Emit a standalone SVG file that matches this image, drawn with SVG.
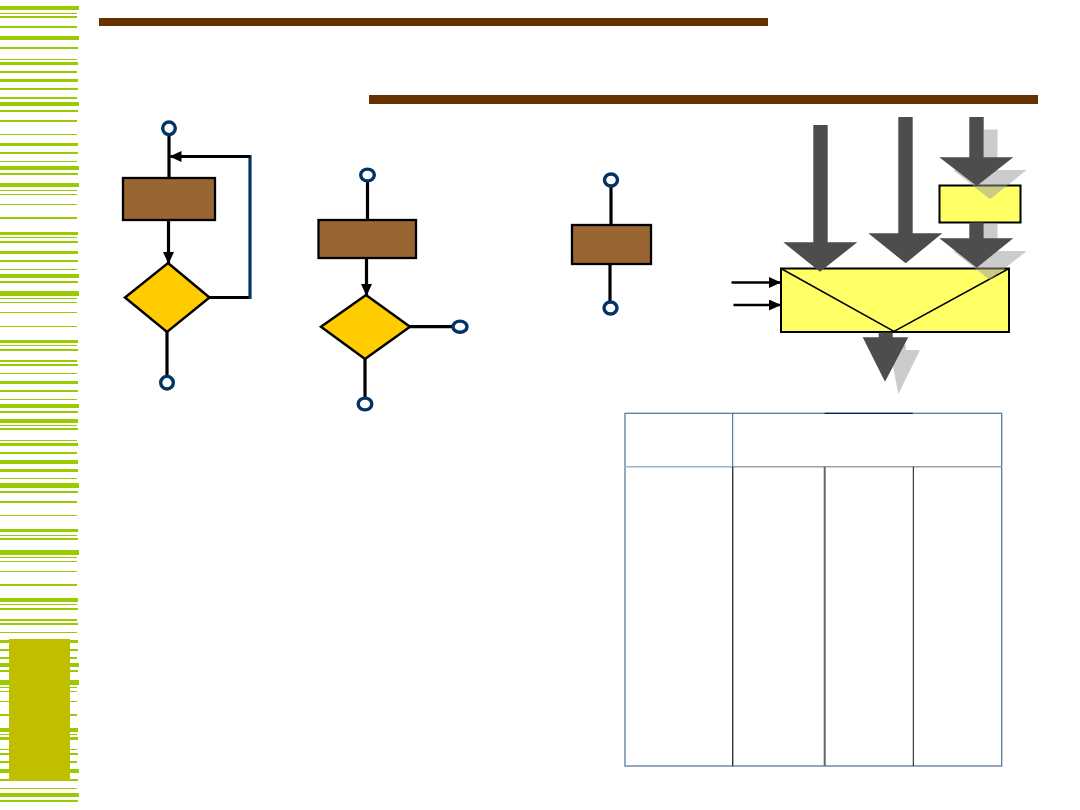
<svg xmlns="http://www.w3.org/2000/svg" width="1080" height="810" viewBox="0 0 1080 810">
<style>
.s{fill:#99CC00}
.ln{stroke:#000;stroke-width:3.2;fill:none}
.proc{fill:#996633;stroke:#000;stroke-width:2.3}
.dec{fill:#FFCC00;stroke:#000;stroke-width:2.5;stroke-linejoin:miter}
.term{fill:#fff;stroke:#003366;stroke-width:3.4}
.big{fill:#4D4D4D}
.shd{fill:#999999;fill-opacity:0.5}
.yl{fill:#FFFF66;stroke:#000;stroke-width:2}
</style>
<defs>
<marker id="ah" markerUnits="userSpaceOnUse" markerWidth="12" markerHeight="11" refX="11" refY="5.5" orient="auto">
<path d="M0,0 L12,5.5 L0,11 Z" fill="#000"/>
</marker>
</defs>
<rect width="1080" height="810" fill="#fff"/>
<g id="stripes">
<rect class="s" x="0" y="6" width="79" height="4"/><rect class="s" x="0" y="13" width="77" height="1"/><rect class="s" x="0" y="16" width="77" height="2"/><rect class="s" x="0" y="26" width="77" height="2"/><rect class="s" x="0" y="36" width="79" height="4"/><rect class="s" x="0" y="47" width="78" height="2"/><rect class="s" x="0" y="59" width="77" height="1"/><rect class="s" x="0" y="62" width="78" height="3"/><rect class="s" x="0" y="71" width="77" height="2"/><rect class="s" x="0" y="79" width="78" height="3"/><rect class="s" x="0" y="88" width="78" height="2"/><rect class="s" x="0" y="97" width="77" height="2"/><rect class="s" x="0" y="102" width="79" height="4"/><rect class="s" x="0" y="110" width="78" height="2"/><rect class="s" x="0" y="120" width="77" height="2"/><rect class="s" x="0" y="134" width="77" height="1"/><rect class="s" x="0" y="143" width="78" height="3"/><rect class="s" x="0" y="152" width="78" height="2"/><rect class="s" x="0" y="161" width="77" height="1"/><rect class="s" x="0" y="166" width="79" height="4"/><rect class="s" x="0" y="173" width="78" height="2"/><rect class="s" x="0" y="183" width="79" height="4"/><rect class="s" x="0" y="190" width="77" height="1"/><rect class="s" x="0" y="194" width="77" height="1"/><rect class="s" x="0" y="204" width="77" height="1"/><rect class="s" x="0" y="217" width="77" height="2"/><rect class="s" x="0" y="232" width="78" height="3"/><rect class="s" x="0" y="237" width="77" height="1"/><rect class="s" x="0" y="241" width="78" height="2"/><rect class="s" x="0" y="251" width="78" height="3"/><rect class="s" x="0" y="260" width="78" height="2"/><rect class="s" x="0" y="269" width="77" height="1"/>
<rect class="s" x="0" y="274" width="79" height="4"/><rect class="s" x="0" y="281" width="78" height="2"/><rect class="s" x="0" y="291" width="79" height="5"/><rect class="s" x="0" y="298" width="77" height="1"/><rect class="s" x="0" y="302" width="77" height="1"/><rect class="s" x="0" y="312" width="77" height="1"/><rect class="s" x="0" y="326" width="77" height="1"/><rect class="s" x="0" y="340" width="78" height="3"/><rect class="s" x="0" y="345" width="77" height="1"/><rect class="s" x="0" y="349" width="78" height="2"/><rect class="s" x="0" y="360" width="77" height="2"/><rect class="s" x="0" y="364" width="78" height="2"/><rect class="s" x="0" y="373" width="77" height="1"/><rect class="s" x="0" y="381" width="78" height="3"/><rect class="s" x="0" y="390" width="78" height="2"/><rect class="s" x="0" y="399" width="77" height="1"/><rect class="s" x="0" y="404" width="79" height="4"/><rect class="s" x="0" y="411" width="78" height="2"/><rect class="s" x="0" y="419" width="78" height="4"/><rect class="s" x="0" y="425" width="77" height="1"/><rect class="s" x="0" y="428" width="78" height="2"/><rect class="s" x="0" y="440" width="77" height="1"/><rect class="s" x="0" y="443" width="78" height="3"/><rect class="s" x="0" y="452" width="77" height="2"/><rect class="s" x="0" y="460" width="78" height="4"/><rect class="s" x="0" y="469" width="78" height="3"/><rect class="s" x="0" y="478" width="77" height="1"/><rect class="s" x="0" y="483" width="79" height="5"/><rect class="s" x="0" y="491" width="78" height="2"/><rect class="s" x="0" y="501" width="77" height="2"/><rect class="s" x="0" y="515" width="77" height="1"/><rect class="s" x="0" y="529" width="78" height="3"/><rect class="s" x="0" y="535" width="77" height="1"/><rect class="s" x="0" y="538" width="78" height="2"/>
<rect class="s" x="0" y="550" width="79" height="5"/><rect class="s" x="0" y="557" width="77" height="1"/><rect class="s" x="0" y="561" width="77" height="1"/><rect class="s" x="0" y="571" width="77" height="1"/><rect class="s" x="0" y="584" width="77" height="2"/><rect class="s" x="0" y="598" width="78" height="4"/><rect class="s" x="0" y="604" width="77" height="1"/><rect class="s" x="0" y="608" width="78" height="2"/><rect class="s" x="0" y="619" width="77" height="2"/><rect class="s" x="0" y="623" width="78" height="2"/><rect class="s" x="0" y="632" width="77" height="1"/><rect class="s" x="0" y="640" width="78" height="3"/><rect class="s" x="0" y="649" width="78" height="2"/><rect class="s" x="0" y="657" width="77" height="2"/><rect class="s" x="0" y="663" width="79" height="4"/><rect class="s" x="0" y="670" width="78" height="2"/><rect class="s" x="0" y="680" width="79" height="5"/><rect class="s" x="0" y="687" width="77" height="1"/><rect class="s" x="0" y="691" width="77" height="1"/><rect class="s" x="0" y="701" width="77" height="1"/><rect class="s" x="0" y="714" width="77" height="2"/><rect class="s" x="0" y="728" width="78" height="4"/><rect class="s" x="0" y="734" width="77" height="1"/><rect class="s" x="0" y="737" width="78" height="3"/><rect class="s" x="0" y="749" width="77" height="1"/><rect class="s" x="0" y="753" width="78" height="2"/><rect class="s" x="0" y="761" width="77" height="2"/><rect class="s" x="0" y="769" width="79" height="4"/><rect class="s" x="0" y="779" width="78" height="2"/><rect class="s" x="0" y="788" width="77" height="1"/><rect class="s" x="0" y="793" width="79" height="4"/><rect class="s" x="0" y="800" width="78" height="2"/>
<rect x="9" y="639" width="61" height="142" fill="#BFBF00"/>
</g>
<g id="bars">
<rect x="99" y="18" width="669" height="8" fill="#663300"/>
<rect x="369" y="95" width="669" height="9" fill="#663300"/>
</g>
<g id="connectors">
<line class="ln" x1="169" y1="134" x2="169" y2="178"/>
<line class="ln" x1="168.5" y1="220" x2="168.5" y2="263" marker-end="url(#ah)"/>
<line class="ln" x1="210" y1="297.5" x2="250" y2="297.5"/>
<line x1="250" y1="155" x2="250" y2="299" stroke="#003366" stroke-width="3.2"/>
<line class="ln" x1="250" y1="156.5" x2="170.5" y2="156.5" marker-end="url(#ah)"/>
<line class="ln" x1="167" y1="332" x2="167" y2="376"/>
<line class="ln" x1="367.5" y1="181" x2="367.5" y2="220"/>
<line class="ln" x1="366.5" y1="258" x2="366.5" y2="295" marker-end="url(#ah)"/>
<line class="ln" x1="410" y1="326.7" x2="453" y2="326.7"/>
<line class="ln" x1="365" y1="359" x2="365" y2="398"/>
<line class="ln" x1="611" y1="186" x2="611" y2="225"/>
<line class="ln" x1="610" y1="264" x2="610" y2="302"/>
<line x1="731.5" y1="282.5" x2="780" y2="282.5" stroke="#000" stroke-width="2.6" marker-end="url(#ah)"/>
<line x1="733.5" y1="305" x2="780" y2="305" stroke="#000" stroke-width="2.6" marker-end="url(#ah)"/>
</g>
<g id="loop-chart">
<rect id="p1" class="proc" x="123" y="178" width="92" height="42"/>
<polygon id="d1" class="dec" points="168,263 209.5,297.5 167,332 125,297.5"/>
<circle id="t1a" class="term" cx="169" cy="128.3" r="6.3"/>
<circle id="t1b" class="term" cx="167" cy="382.7" r="6.3"/>
</g>
<g id="branch-chart">
<rect id="p2" class="proc" x="318.5" y="220" width="97.5" height="38"/>
<polygon id="d2" class="dec" points="366,295 410,326.7 365,359 321,326.7"/>
<ellipse id="t2a" class="term" cx="367.5" cy="175" rx="6.8" ry="5.9"/>
<ellipse id="t2b" class="term" cx="460" cy="326.7" rx="7" ry="5.6"/>
<ellipse id="t2c" class="term" cx="365" cy="404" rx="6.8" ry="5.9"/>
</g>
<g id="seq-chart">
<rect id="p3" class="proc" x="572" y="225" width="79" height="39"/>
<ellipse id="t3a" class="term" cx="611" cy="180" rx="6.5" ry="6"/>
<ellipse id="t3b" class="term" cx="610.5" cy="308" rx="6.5" ry="6"/>
</g>
<g id="block">
<rect id="bigbox" class="yl" x="781" y="268.5" width="228" height="63.5"/>
<polyline points="781,268.5 894,331.5 1009,268.5" fill="none" stroke="#000" stroke-width="1.5"/>
<rect id="smallbox" class="yl" x="939.5" y="185.5" width="81" height="37"/>
</g>
<g id="flow-arrows">
<polygon class="shd" points="984,129.5 997.5,129.5 997.5,170 1026.7,170 990,199.3 953,170 984,170"/>
<polygon class="shd" points="984,223 997.5,223 997.5,251 1026.7,251 990,280 953,251 984,251"/>
<polygon class="shd" points="892,345 906,345 906,350 920,350 898.3,394 890,350 892,350"/>
<polygon class="big" points="813.3,125 827.7,125 827.7,242.3 857.3,242.3 820,271.7 783.3,242.3 813.3,242.3"/>
<polygon class="big" points="898.3,117 912.7,117 912.7,233.3 942.3,233.3 905.7,263.3 868.3,233.3 898.3,233.3"/>
<polygon class="big" points="969.3,117 983.7,117 983.7,157.3 1013.3,157.3 976.7,186 939.3,157.3 969.3,157.3"/>
<polygon class="big" points="969.3,222.5 983.7,222.5 983.7,238.3 1013.3,238.3 976.7,267.7 939.3,238.3 969.3,238.3"/>
<polygon class="big" points="878.7,332.5 892.7,332.5 892.7,337.3 908.3,337.3 885,381.7 862.7,337.3 878.7,337.3"/>
</g>
<g id="table">
<rect x="625" y="413.3" width="376.7" height="352.7" fill="none" stroke="#5A7A9F" stroke-width="1.3"/>
<line x1="625" y1="466.7" x2="733" y2="466.7" stroke="#A0B4C8" stroke-width="1.6"/>
<line x1="733" y1="466.7" x2="1001.7" y2="466.7" stroke="#A0A0A0" stroke-width="1.6"/>
<line x1="732.7" y1="413.3" x2="732.7" y2="466.7" stroke="#3060A0" stroke-width="1"/>
<line x1="732.7" y1="466.7" x2="732.7" y2="766" stroke="#333" stroke-width="1.4"/>
<line x1="824.7" y1="466.7" x2="824.7" y2="766" stroke="#666" stroke-width="2"/>
<line x1="913.3" y1="466.7" x2="913.3" y2="766" stroke="#111" stroke-width="1"/>
<line x1="824.7" y1="413.3" x2="912.7" y2="413.3" stroke="#002060" stroke-width="1.3"/>
</g>
</svg>
